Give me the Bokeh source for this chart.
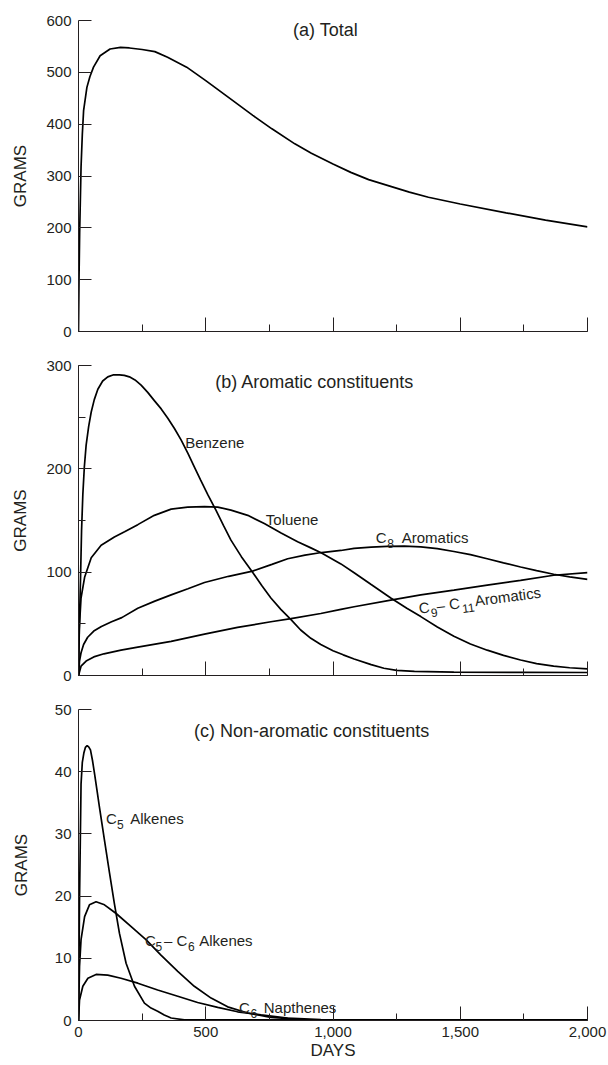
import math
from bokeh.plotting import figure
from bokeh.layouts import column
from bokeh.models import Range1d, SingleIntervalTicker, NumeralTickFormatter, Label
from bokeh.embed import file_html
from bokeh.resources import INLINE

# ---------------- data ----------------
total_days = [0, 2, 4.5, 10, 15, 20, 33, 45, 59, 85, 124, 165, 200, 250, 300, 350, 425, 500,
              580, 685, 760, 850, 915, 1000, 1070, 1140, 1220, 1300, 1375, 1500, 1680, 1835, 2000]
total_g = [0, 100, 190, 317, 380, 426, 471, 492, 510, 532, 545, 548, 547, 544, 540, 529, 510, 484,
           455, 417, 391, 362, 344, 323, 307, 293, 281, 269, 259, 246, 229, 215, 202]

benzene_days = [0, 4, 8, 12, 17, 23, 30, 40, 50, 62, 76, 95, 115, 138, 161, 180, 200, 222, 246,
                272, 298, 325, 351, 377, 403, 430, 455, 480, 508, 540, 570, 599, 640, 684, 720,
                756, 795, 835, 873, 913, 952, 1000, 1040, 1083, 1150, 1200, 1250, 1320, 1475,
                1750, 2000]
benzene_g = [0, 55, 94, 140, 175, 202, 223, 241, 255, 267, 277, 285, 289, 291, 291, 290.5, 289,
             286, 281, 274, 266, 258, 249, 239, 228, 215, 202, 189, 175, 160, 145, 131, 115, 100,
             87, 75, 64, 54, 44, 36, 30, 24, 20, 16, 10.5, 7, 5, 4, 3.3, 3.0, 2.9]

toluene_days = [0, 3, 10, 24, 50, 89, 141, 181, 233, 298, 364, 429, 495, 547, 599, 665, 730, 796,
                861, 913, 955, 1031, 1083, 1150, 1227, 1290, 1345, 1410, 1475, 1540, 1606, 1670,
                1737, 1800, 1867, 1930, 2000]
toluene_g = [0, 45, 75, 95, 114, 126, 134, 139, 146, 155, 161, 163, 163.5, 163, 160, 155, 147,
             138, 129.5, 123.5, 118.5, 108, 99.5, 88, 75, 65, 57, 47, 38, 30.5, 24.5, 19.5, 15,
             11.5, 9, 7.5, 6.5]

c8_days = [0, 4, 10, 20, 36, 60, 90, 130, 170, 233, 300, 364, 430, 495, 590, 684, 760, 822, 890,
           955, 1031, 1083, 1150, 1213, 1280, 1345, 1410, 1475, 1540, 1606, 1670, 1737, 1800,
           1867, 1930, 2000]
c8_g = [0, 14, 22, 30, 37, 43, 47.5, 52, 56, 65, 72, 78, 84, 90, 96, 101, 107.5, 113, 116.5,
        119, 121, 123, 124.2, 125, 125.2, 124.5, 122.8, 120, 117, 113, 109, 105, 101.5, 98,
        95.5, 93]

c911_days = [0, 10, 30, 60, 100, 167, 233, 364, 495, 625, 756, 835, 952, 1031, 1083, 1227, 1345,
             1475, 1606, 1737, 1867, 2000]
c911_g = [0, 9, 14, 18, 21, 24.5, 27.5, 33, 40, 46.5, 52, 55, 60, 64, 66.5, 73, 78,
          82.6, 87.4, 92, 97, 99.5]

c5_days = [0, 4, 10, 15, 21, 27, 34, 40, 47, 55, 63, 72, 82, 92, 102, 122, 141, 161, 187, 220,
           259, 285, 311, 337, 364, 416, 500, 1000, 2000]
c5_g = [0, 19.4, 38, 41.5, 43, 43.9, 44.2, 44, 43.5, 41.8, 39.7, 37.2, 34.4, 31.7, 29, 23.7,
        18.8, 14, 9.2, 5.5, 2.8, 2.0, 1.5, 0.9, 0.4, 0.1, 0.1, 0.1, 0.1]

c56_days = [0, 4, 10, 24, 43, 69, 102, 148, 207, 265, 324, 390, 455, 521, 586, 665, 756, 887,
            1000, 2000]
c56_g = [0, 8.7, 13, 16.7, 18.6, 19.1, 18.6, 17.2, 15.1, 13, 10.5, 7.9, 5.5, 3.6, 2.2, 1.2, 0.5,
         0.15, 0.1, 0.1]

c6n_days = [0, 4, 17, 37, 69, 115, 167, 233, 311, 390, 468, 547, 625, 717, 822, 952, 2000]
c6n_g = [0, 3.3, 5.5, 6.8, 7.4, 7.3, 6.8, 6.0, 4.9, 3.9, 2.9, 2.1, 1.4, 0.9, 0.4, 0.15, 0.1]

x_ticks = [0, 500, 1000, 1500, 2000]

FONT = "Liberation Sans"
INK = "#231f20"
LW = 1.7


def make_panel(ymax, yint, yminor, fh, top, bottom, label_standoff, show_x):
    p = figure(frame_width=509, frame_height=fh,
               x_range=Range1d(0, 2000), y_range=Range1d(0, ymax),
               output_backend="svg", toolbar_location=None,
               min_border_left=78, min_border_right=20,
               min_border_top=top, min_border_bottom=bottom)
    p.grid.visible = False
    p.outline_line_color = None
    p.background_fill_color = "white"
    p.border_fill_color = "white"

    p.xaxis.ticker = SingleIntervalTicker(interval=500, num_minor_ticks=2)
    p.yaxis.ticker = SingleIntervalTicker(interval=yint, num_minor_ticks=yminor)
    for ax in (p.xaxis, p.yaxis):
        ax.axis_line_color = INK
        ax.axis_line_width = 1
        ax.major_tick_line_color = INK
        ax.minor_tick_line_color = INK
        ax.major_tick_out = 0
        ax.minor_tick_out = 0
        ax.minor_tick_in = 7
        ax.major_label_text_font = FONT
        ax.major_label_text_font_size = "15px"
        ax.major_label_text_color = INK
        ax.axis_label_text_font = FONT
        ax.axis_label_text_font_size = "17px"
        ax.axis_label_text_font_style = "normal"
        ax.axis_label_text_color = INK
    p.xaxis.major_tick_in = 14
    p.yaxis.major_tick_in = 13
    p.yaxis.major_label_standoff = 7
    if yminor == 0:
        p.yaxis.minor_tick_line_color = None

    p.yaxis.axis_label = "GRAMS"
    p.yaxis.axis_label_standoff = label_standoff

    if show_x:
        p.xaxis.formatter = NumeralTickFormatter(format="0,0")
        p.xaxis.major_label_standoff = 6
        p.xaxis.axis_label = "DAYS"
        p.xaxis.axis_label_standoff = 1
    else:
        p.xaxis.major_label_overrides = {t: "" for t in x_ticks}
        p.xaxis.major_label_text_font_size = "0px"
        p.xaxis.major_label_standoff = 0
    return p


def lab(p, x, y, text, size="15px", align="left", baseline="alphabetic", angle=0.0,
        dx=0.0, dy=0.0):
    p.add_layout(Label(x=x, y=y, text=text, text_font=FONT, text_font_size=size,
                       text_color=INK, text_align=align, text_baseline=baseline,
                       angle=angle, x_offset=dx, y_offset=dy))


def chem(p, x, y, pieces, angle=0.0):
    """pieces: (text, offset along baseline in px, is_subscript)"""
    ca, sa = math.cos(angle), math.sin(angle)
    for text, d, sub in pieces:
        drop = 6.0 if sub else 0.0
        ox = d * ca + drop * sa
        oy = d * sa - drop * ca
        lab(p, x, y, text, size="12px" if sub else "15px", angle=angle, dx=ox, dy=oy)


# (a) Total
p1 = make_panel(600, 100, 0, 311, 20, 18, 13, False)
p1.line(total_days, total_g, line_color="black", line_width=LW)
lab(p1, 971, 582, "(a) Total", size="18px", align="center", baseline="middle")

# (b) Aromatic constituents
p2 = make_panel(300, 100, 2, 310, 16, 18, 13, False)
p2.line(benzene_days, benzene_g, line_color="black", line_width=LW)
p2.line(toluene_days, toluene_g, line_color="black", line_width=LW)
p2.line(c8_days, c8_g, line_color="black", line_width=LW)
p2.line(c911_days, c911_g, line_color="black", line_width=LW)
lab(p2, 928, 284.5, "(b) Aromatic constituents", size="18px", align="center", baseline="middle")
lab(p2, 419, 225.8, "Benzene")
lab(p2, 736, 151, "Toluene")
chem(p2, 1168, 134, [("C", 0, False), ("8", 11.5, True), ("Aromatics", 26, False)])
chem(p2, 1337, 65, [("C", 0, False), ("9", 11.5, True), ("\u2013 C", 18, False),
                     ("11", 43, True), ("Aromatics", 56.5, False)], angle=0.133)

# (c) Non-aromatic constituents
p3 = make_panel(50, 10, 0, 311, 16, 45, 21, True)
p3.line(c5_days, c5_g, line_color="black", line_width=LW)
p3.line(c56_days, c56_g, line_color="black", line_width=LW)
p3.line(c6n_days, c6n_g, line_color="black", line_width=LW)
lab(p3, 916, 46.5, "(c) Non-aromatic constituents", size="18px", align="center", baseline="middle")
chem(p3, 108, 32.5, [("C", 0, False), ("5", 11, True), ("Alkenes", 24.3, False)])
chem(p3, 261, 12.9, [("C", 0, False), ("5", 10.5, True), ("\u2013 C", 19, False),
                     ("6", 43, True), ("Alkenes", 54.3, False)])
chem(p3, 631, 2.15, [("C", 0, False), ("6", 11.5, True), ("Napthenes", 24.7, False)])

layout = column(p1, p2, p3, spacing=0)
open("out.html", "w").write(file_html(layout, INLINE))
